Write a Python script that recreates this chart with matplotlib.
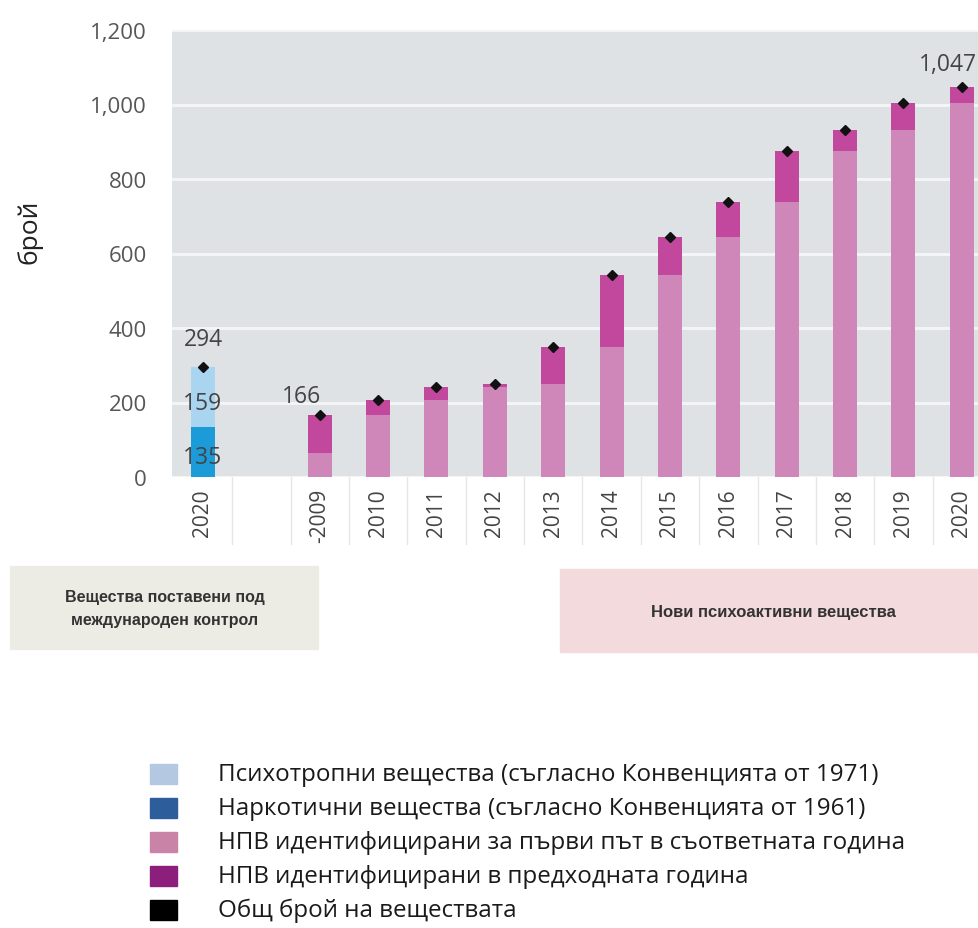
import matplotlib
matplotlib.use("Agg")
import matplotlib.pyplot as plt
from matplotlib.patches import Rectangle
from matplotlib.transforms import blended_transform_factory

# ---- data ----
control_cats = ['2020']
narcotic = [135]
psychotropic = [159]
control_totals = [294]

nps_cats = ['-2009', '2010', '2011', '2012', '2013', '2014', '2015',
            '2016', '2017', '2018', '2019', '2020']
nps_lower = [64, 166, 206, 241, 251, 348, 541, 644, 739, 876, 931, 1004]
nps_upper = [102, 40, 35, 10, 97, 193, 103, 95, 137, 55, 73, 43]
nps_totals = [166, 206, 241, 251, 348, 541, 644, 739, 876, 931, 1004, 1047]

y_ticks = [0, 200, 400, 600, 800, 1000, 1200]
y_tick_labels = ['0', '200', '400', '600', '800', '1,000', '1,200']

legend_labels = [
    'Психотропни вещества (съгласно Конвенцията от 1971)',
    'Наркотични вещества (съгласно Конвенцията от 1961)',
    'НПВ идентифицирани за първи път в съответната година',
    'НПВ идентифицирани в предходната година',
    'Общ брой на веществата',
]
legend_colors = ['#b4c8e2', '#2d5d9b', '#c983a6', '#8c1f7c', '#000000']

box_left_text = 'Вещества поставени под\nмеждународен контрол'
box_right_text = 'Нови психоактивни вещества'

# ---- styling ----
FONT = ['Open Sans', 'DejaVu Sans']
BOXFONT = ['Liberation Sans', 'DejaVu Sans']
plt.rcParams['font.family'] = FONT

W, H = 979, 929
fig = plt.figure(figsize=(W / 100, H / 100), dpi=100)

ax_l, ax_r, ax_t, ax_b = 172, 991, 31, 478
ax = fig.add_axes([ax_l / W, 1 - ax_b / H, (ax_r - ax_l) / W, (ax_b - ax_t) / H])
ax.set_facecolor('#dfe2e5')
for s in ax.spines.values():
    s.set_visible(False)

all_cats = control_cats + [''] + nps_cats
pos_control = [0]
pos_nps = [i + 2 for i in range(len(nps_cats))]
bw = 0.41

# control bar
ax.bar(pos_control, narcotic, width=bw, color='#1b9bd7', zorder=3)
ax.bar(pos_control, psychotropic, bottom=narcotic, width=bw, color='#a9d5f1', zorder=3)
ax.plot(pos_control, control_totals, 'D', color='#111111', ms=5.5, zorder=5)

# NPS bars
ax.bar(pos_nps, nps_lower, width=bw, color='#cf87b9', zorder=3)
ax.bar(pos_nps, nps_upper, bottom=nps_lower, width=bw, color='#c2489d', zorder=3)
ax.plot(pos_nps, nps_totals, 'D', color='#111111', ms=5.5, zorder=5, ls='none')

ax.set_xlim(-0.53, 13.5)
ax.set_ylim(0, 1200)
ax.set_yticks(y_ticks)
ax.set_yticklabels(y_tick_labels)
ax.set_xticks(list(range(len(all_cats))))
ax.set_xticklabels(all_cats, rotation=90)
ax.tick_params(axis='y', length=0, pad=18, labelsize=16, labelcolor='#575757')
ax.tick_params(axis='x', length=0, pad=8, labelsize=15, labelcolor='#444444')
ax.yaxis.grid(True, color='#f2f4f6', lw=2.2, zorder=1)
ax.set_axisbelow(True)

# separators in tick-label area
tr = blended_transform_factory(ax.transData, ax.transAxes)
for b in range(len(all_cats) - 1):
    ax.plot([b + 0.5, b + 0.5], [0, -0.15], color='#e6e6e6', lw=1,
            transform=tr, clip_on=False, zorder=0)

# value labels
lab_kw = dict(fontsize=16.5, color='#444444', ha='center', va='center',
              textcoords='offset pixels')
ax.annotate(f'{control_totals[0]}', (pos_control[0], control_totals[0]),
            xytext=(0, 28), **lab_kw)
ax.annotate(f'{psychotropic[0]}', (pos_control[0], narcotic[0] + psychotropic[0] / 2),
            xytext=(0, -6), **lab_kw)
ax.annotate(f'{narcotic[0]}', (pos_control[0], narcotic[0] / 2),
            xytext=(0, -5), **lab_kw)
ax.annotate(f'{nps_totals[0]}', (pos_nps[0], nps_totals[0]),
            xytext=(-18, 19), **lab_kw)
ax.annotate(f'{nps_totals[-1]:,}', (pos_nps[-1], nps_totals[-1]),
            xytext=(-14, 23), **lab_kw)

# y label
fig.text(30 / W, 1 - 232 / H, 'брой', rotation=90, ha='center', va='center',
         fontsize=19, color='#222222')

# category boxes
def fig_rect(x0, y0, x1, y1, color):
    fig.add_artist(Rectangle((x0 / W, 1 - y1 / H), (x1 - x0) / W, (y1 - y0) / H,
                             transform=fig.transFigure, color=color, zorder=0))

fig_rect(10, 567, 318, 650, '#ecebe4')
fig_rect(560, 570, 990, 653, '#f3dadc')
fig.text(165 / W, 1 - 609 / H, box_left_text, ha='center', va='center',
         fontsize=11.5, fontweight='bold', color='#333333', family=BOXFONT,
         linespacing=1.6)
fig.text(773 / W, 1 - 613 / H, box_right_text, ha='center', va='center',
         fontsize=12, fontweight='bold', color='#333333', family=BOXFONT)

# legend
for i, (lab, col) in enumerate(zip(legend_labels, legend_colors)):
    yc = 775 + i * 34
    fig_rect(150, yc - 10, 177, yc + 10, col)
    fig.text(218 / W, 1 - yc / H, lab, ha='left', va='center', fontsize=17.4,
             color='#1a1a1a')

fig.savefig('out.png', dpi=100)
